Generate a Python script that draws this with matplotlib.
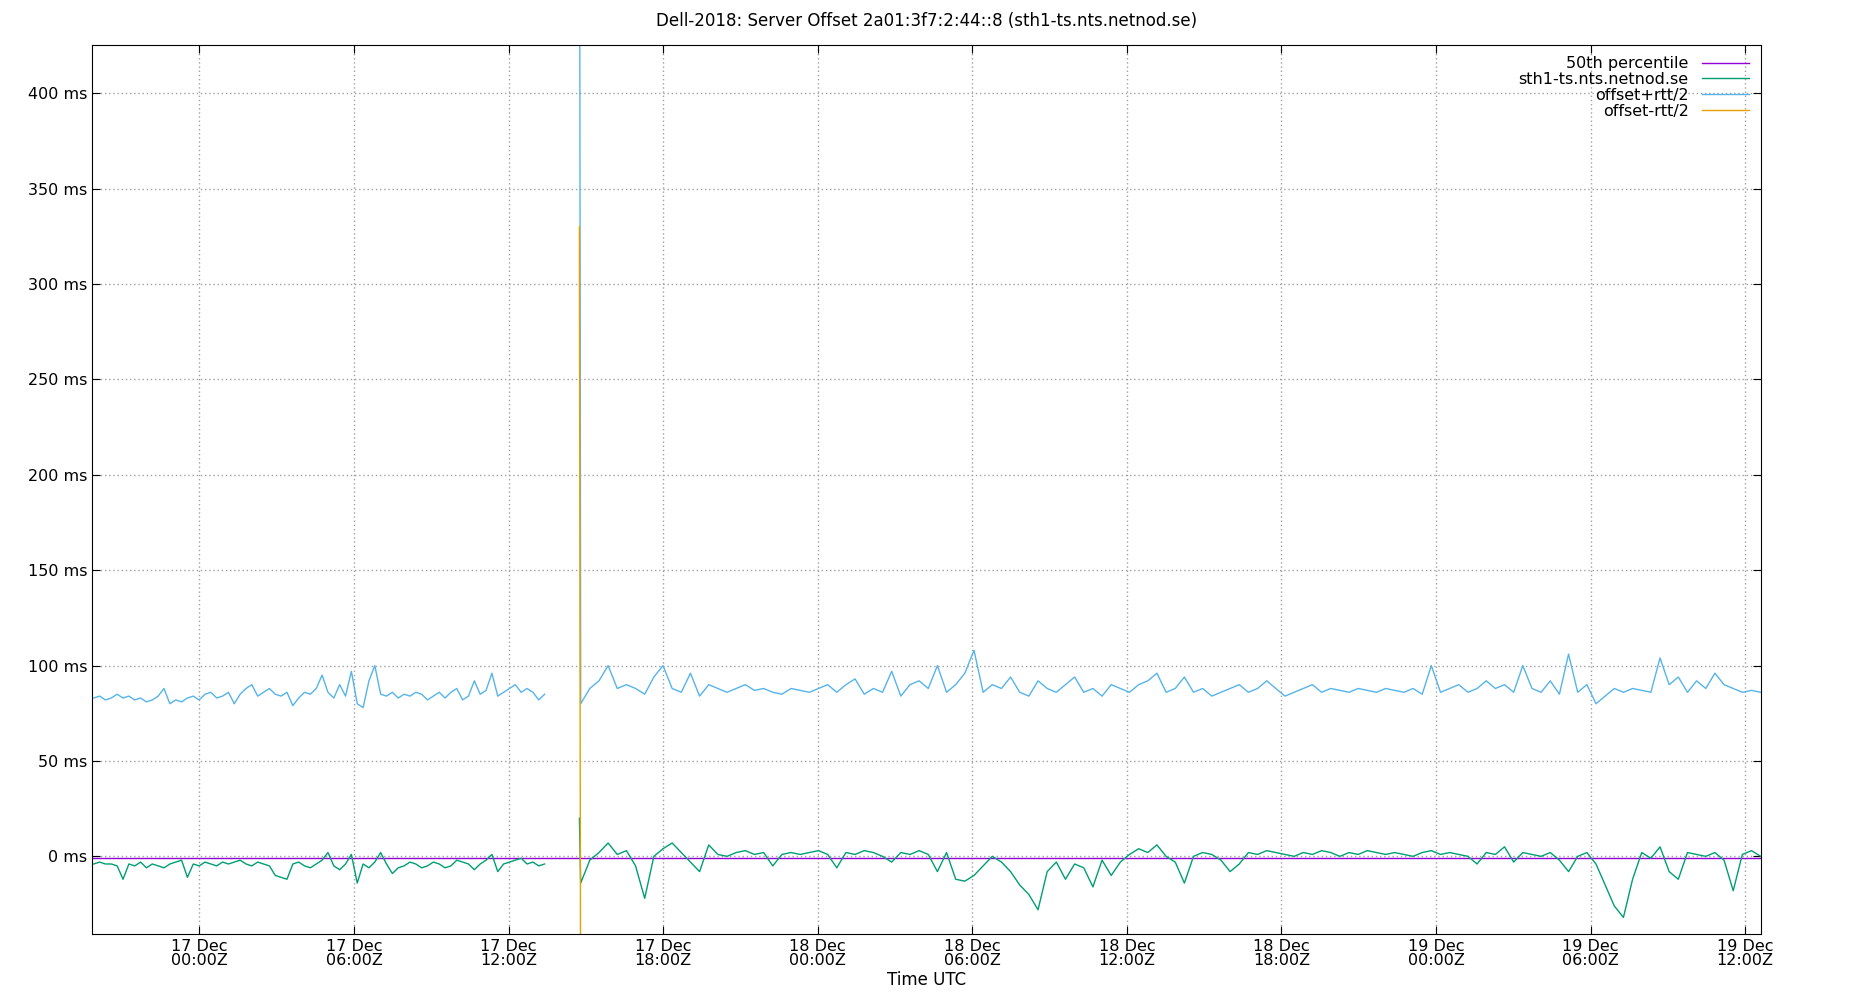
import numpy as np
import matplotlib
matplotlib.use("Agg")
import matplotlib.pyplot as plt

# hours relative to 17 Dec 00:00Z
t1_start, t1_end, t_spike, t2_start, t2_end = -4.1, 13.4, 14.75, 14.8, 60.6
off1 = [-4,-3,-4,-4,-5,-12,-4,-5,-3,-6,-4,-5,-6,-4,-3,-2,-11,-4,-5,-3,-4,-5,-3,-4,-3,-2,-4,-5,-3,-4,
        -5,-10,-11,-12,-4,-3,-5,-6,-4,-2,2,-5,-7,-4,1,-14,-4,-6,-3,2]
off1b = [-4,-9,-6,-5,-3,-4,-6,-5,-3,-4,-6,-5,-2,-3,-4,-7,-4,-2,1,-8,-4,-3,-2,-1,-4,-3,-5,-4]
up1 = [83,84,82,83,85,83,84,82,83,81,82,84,88,80,82,81,83,84,82,85,86,83,84,86,80,85,88,90,84,86,
       88,85,84,86,79,83,86,85,88,95,86,83,90,84,97,80,78,92,100,85]
up1b = [84,86,83,85,84,86,85,82,84,86,83,86,88,82,84,92,85,87,96,84,86,88,90,86,88,86,82,85]
spike_off, spike_up, spike_lo = 20, 600, 330
off2 = [-14,-2,2,7,1,3,-5,-22,0,4,7,2,-3,-8,6,1,0,2,3,1,2,-5,1,2,1,2,3,1,-6,
        2,1,3,2,0,-3,2,1,3,1,-8,2,-12,-13,-10,-5,0,-3,-8,-15,-20,-28,-8,-3,-12,-4,-6,-16,-2,-10,
        -3,1,4,2,6,0,-3,-14,0,2,1,-2,-8,-4,2,1,3,2,1,0,2,1,3,2,0,2,1,3,2,1,
        2,1,0,2,3,1,2,1,0,-4,2,1,5,-3,2,1,0,2,-2,-8,0,2,-4,-15,-26,-32,-12,2,-1,5,
        -8,-12,2,1,0,2,-2,-18,1,3,0]
up2 = [80,88,92,100,88,90,88,85,94,100,88,86,96,84,90,88,86,88,90,87,88,86,85,88,87,86,88,90,86,
       90,93,85,88,86,97,84,90,92,88,100,86,90,96,108,86,90,88,94,86,84,92,88,86,90,94,86,88,84,90,
       88,86,90,92,96,86,88,94,86,88,84,86,88,90,86,88,92,88,84,86,88,90,86,88,87,86,88,87,86,88,
       87,86,88,85,100,86,88,90,86,88,92,88,90,86,100,88,86,92,85,106,86,90,80,84,88,86,88,87,
       86,104,90,94,86,92,88,96,90,88,86,87,86]
ticks = [0,6,12,18,24,30,36,42,48,54,60]
tick_labels = ["17 Dec\n00:00Z","17 Dec\n06:00Z","17 Dec\n12:00Z","17 Dec\n18:00Z","18 Dec\n00:00Z",
               "18 Dec\n06:00Z","18 Dec\n12:00Z","18 Dec\n18:00Z","19 Dec\n00:00Z","19 Dec\n06:00Z","19 Dec\n12:00Z"]
median = -1.0

off_a = np.array(off1 + off1b, float); up_a = np.array(up1 + up1b, float)
n_a = min(len(off_a), len(up_a)); off_a, up_a = off_a[:n_a], up_a[:n_a]
t_a = np.linspace(t1_start, t1_end, n_a)
n_b = min(len(off2), len(up2))
off_b = np.array(off2[:n_b], float); up_b = np.array(up2[:n_b], float)
t_b = np.linspace(t2_start, t2_end, n_b)
lo_a = 2 * off_a - up_a
lo_b = 2 * off_b - up_b
# prepend spike point
t_b = np.concatenate([[t_spike], t_b])
off_b = np.concatenate([[spike_off], off_b])
up_b = np.concatenate([[spike_up], up_b])
lo_b = np.concatenate([[spike_lo], lo_b])

fig = plt.figure(figsize=(18.5, 10), dpi=100)
ax = fig.add_axes([0.0497, 0.066, 0.902, 0.889])
c_med, c_off, c_up, c_lo = "#9400d3", "#009e73", "#56b4e9", "#e69f00"
ax.plot([-4.2, 60.7], [median, median], color=c_med, lw=1, label="50th percentile")
ax.plot(t_a, off_a, color=c_off, lw=1, label="sth1-ts.nts.netnod.se")
ax.plot(t_b, off_b, color=c_off, lw=1)
ax.plot(t_a, up_a, color=c_up, lw=1, label="offset+rtt/2")
ax.plot(t_b, up_b, color=c_up, lw=1)
ax.plot(t_a, lo_a, color=c_lo, lw=1, label="offset-rtt/2")
ax.plot(t_b, lo_b, color=c_lo, lw=1)
ax.set_xlim(-4.17, 60.6)
ax.set_ylim(-40.7, 425.3)
ax.set_yticks([0,50,100,150,200,250,300,350,400])
ax.set_yticklabels([f"{v} ms" for v in [0,50,100,150,200,250,300,350,400]], fontsize=11.5)
ax.set_xticks(ticks); ax.set_xticklabels(tick_labels, fontsize=11.5, linespacing=0.95)
ax.tick_params(direction="in", length=6, top=True, right=True)
ax.grid(True, color="#a0a0a0", ls=(0, (1, 2)), lw=1)
ax.set_xlabel("Time UTC", fontsize=12, labelpad=2)
ax.set_title("Dell-2018: Server Offset 2a01:3f7:2:44::8 (sth1-ts.nts.netnod.se)", fontsize=12, pad=14)
ax.legend(loc="upper right", frameon=False, markerfirst=False, fontsize=11.5, handlelength=3,
          labelspacing=0.05, borderaxespad=0.3)
fig.savefig("out.png")
